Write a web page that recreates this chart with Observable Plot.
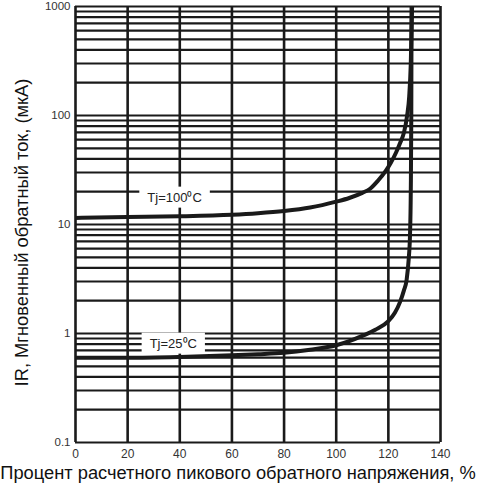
<!DOCTYPE html>
<html><head><meta charset="utf-8">
<script src="https://cdn.jsdelivr.net/npm/d3@7"></script>
<script src="https://cdn.jsdelivr.net/npm/@observablehq/plot@0.6"></script>
<style>
body{margin:0;background:#fff;}
svg{display:block;}
</style>
</head><body><div id="chart"></div>
<script>
const xTicks = [0, 20, 40, 60, 80, 100, 120, 140];
const yTicks = [0.1, 1, 10, 100, 1000];
const yTickLabels = ["0.1", "1", "10", "100", "1000"];
const gridMultiples = [1, 2, 3, 4, 5, 6, 7, 8, 9];

const pct100 = [0, 20, 40, 60, 70, 80, 90, 100, 105, 110, 113, 116, 119, 121, 123, 124.5, 126, 127.2, 128, 128.6, 129.1];
const ir100  = [11.5, 11.7, 11.9, 12.3, 12.7, 13.3, 14.3, 16.2, 17.5, 19.5, 21.3, 25.2, 31, 37, 46, 56, 70, 100, 150, 300, 1000];

const pct25 = [0, 20, 40, 60, 70, 80, 90, 100, 105, 110, 115, 120, 122.5, 124.5, 126, 127, 127.8, 128.3, 128.6, 128.8, 128.9];
const ir25  = [0.6, 0.6, 0.61, 0.63, 0.645, 0.665, 0.71, 0.78, 0.85, 0.95, 1.08, 1.3, 1.55, 1.95, 2.5, 3.1, 4.8, 8, 20, 100, 1000];

const curveLabels = ["Tj=100\u2070C", "Tj=25\u2070C"];
const curveLabelX = [38, 37.5];
const curveLabelY = [17.7, 0.81];

const xLabel = "Процент расчетного пикового обратного напряжения, %";
const yLabel = "IR, Мгновенный обратный ток, (мкА)";

const font = "'Liberation Sans', Arial, Helvetica, sans-serif";

const gridY = [];
for (const d of yTicks.slice(0, -1)) for (const m of gridMultiples) gridY.push(+(d * m).toPrecision(3));
gridY.push(yTicks[yTicks.length - 1]);

const d100 = pct100.map((x, i) => ({x, y: ir100[i]}));
const d25 = pct25.map((x, i) => ({x, y: ir25[i]}));
const labs = curveLabels.map((t, i) => ({t, x: curveLabelX[i], y: curveLabelY[i]}));

const chart = Plot.plot({
  width: 490, height: 492,
  marginLeft: 75, marginRight: 50, marginTop: 6, marginBottom: 50,
  style: {fontFamily: font, background: "white", color: "#111"},
  x: {type: "linear", domain: [0, 140]},
  y: {type: "log", domain: [0.1, 1000]},
  marks: [
    Plot.ruleY(gridY, {stroke: "#1a1a1a", strokeWidth: 2.2}),
    Plot.ruleX(xTicks, {stroke: "#1a1a1a", strokeWidth: 2.6}),
    Plot.line(d100, {x: "x", y: "y", stroke: "#1a1a1a", strokeWidth: 4, curve: "monotone-x", clip: true}),
    Plot.line(d25, {x: "x", y: "y", stroke: "#1a1a1a", strokeWidth: 4, curve: "monotone-x", clip: true}),
    Plot.text(labs, {x: "x", y: "y", text: "t", fontSize: 13, fill: "#222"}),
    Plot.axisX({ticks: xTicks, tickSize: 0, tickPadding: 7, fontSize: 12, label: null, fill: "#333"}),
    Plot.axisY({ticks: yTicks, tickFormat: (d) => yTickLabels[yTicks.indexOf(d)], tickSize: 0, tickPadding: 5, fontSize: 11.5, label: null, fill: "#333"}),
    Plot.text([xLabel], {frameAnchor: "bottom", textAnchor: "middle", dy: 36, dx: -20, fontSize: 18.3, fill: "#111"}),
    Plot.text([yLabel], {frameAnchor: "left", textAnchor: "middle", rotate: -90, dx: -53, dy: 8, fontSize: 18.3, fill: "#111"})
  ]
});
document.getElementById("chart").appendChild(chart);

// white boxes behind the curve labels
chart.querySelectorAll("text").forEach((t) => {
  if (!t.textContent.startsWith("Tj")) return;
  const b = t.getBBox();
  const r = document.createElementNS("http://www.w3.org/2000/svg", "rect");
  r.setAttribute("x", b.x - 8);
  r.setAttribute("y", b.y - 3);
  r.setAttribute("width", b.width + 16);
  r.setAttribute("height", b.height + 6);
  r.setAttribute("fill", "white");
  if (t.getAttribute("transform")) r.setAttribute("transform", t.getAttribute("transform"));
  t.parentNode.insertBefore(r, t);
});
</script>
</body></html>
